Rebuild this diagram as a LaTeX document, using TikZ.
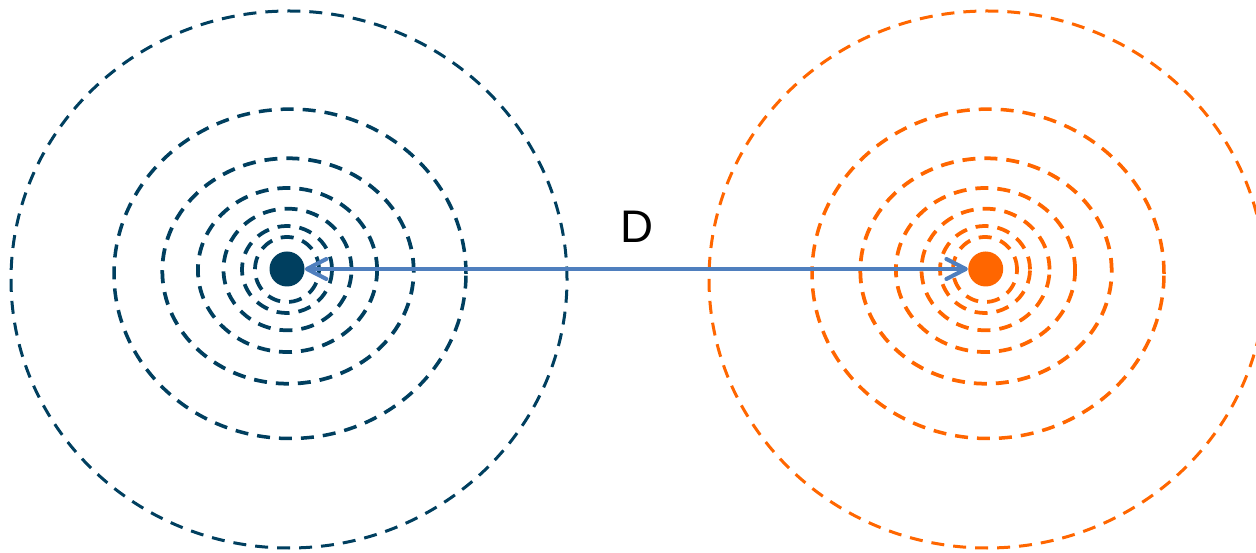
\documentclass[tikz,border=0pt]{standalone}
\usepackage{fontspec}
\setmainfont{Liberation Sans}
\usetikzlibrary{arrows.meta,positioning}
\definecolor{navy}{HTML}{003F5F}
\definecolor{flame}{HTML}{FF6600}
\definecolor{link}{HTML}{4F7FBE}
\tikzset{charge/.style={circle,inner sep=0pt,minimum size=7mm},
  ring/.style={dash pattern=on 2.6mm off 1.8mm},
  arrow/.style={{Straight Barb[length=3.9mm,width=4mm,round]}-{Straight Barb[length=3.9mm,width=4mm,round]},
    line width=0.8mm,draw=link}}

\begin{document}
\begin{tikzpicture}[x=0.2mm,y=0.2mm]
\useasboundingbox (0,0) rectangle (1256,552);
\foreach \cx/\col in {287/navy,985/flame}{
  \foreach \dx/\dy/\rx/\ry/\lw in {2/10.5/278/268.5/0.6,3/4.8/176/164.7/0.7,
      1/2/125.7/112.7/0.75,0.5/1/89.6/82/0.75,0.5/0.5/64/60.8/0.75,0/0.5/45/43.5/0.75,0/0.5/32/32.5/0.75}
    \draw[ring,draw=\col,line width=\lw mm] (\cx+\dx,283-\dy) ellipse [x radius=\rx,y radius=\ry];
}
\node[charge,fill=navy] (lq) at (287,283) {};
\node[charge,fill=flame,right=132.6mm of lq] (rq) {};
\node[font=\fontsize{26}{30}\selectfont] (dist) at (637,325) {D};
\draw[arrow] (lq) -- (rq);
\end{tikzpicture}
\end{document}
